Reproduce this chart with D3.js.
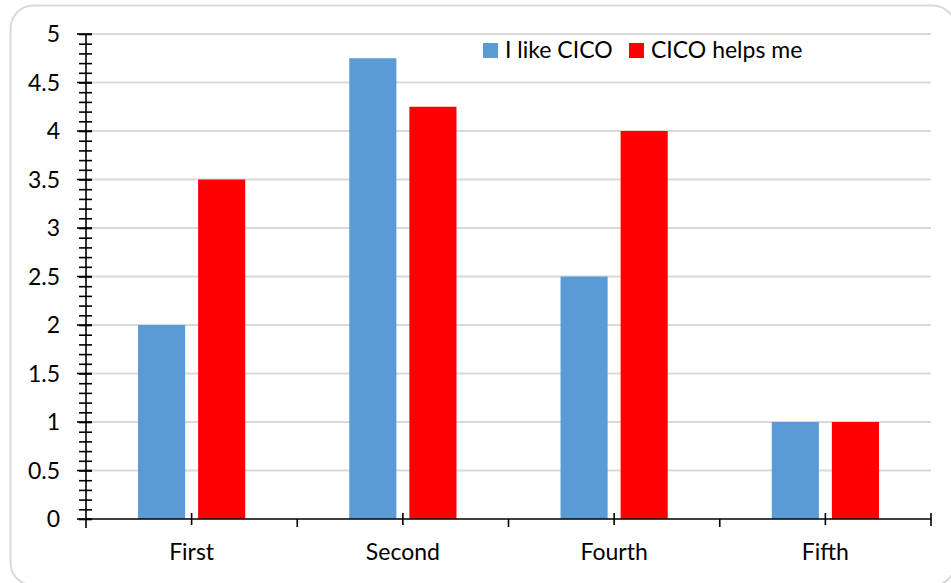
<!DOCTYPE html>
<html>
<head>
<meta charset="utf-8">
<script src="https://cdn.jsdelivr.net/npm/d3@7/dist/d3.min.js"></script>
<style>
  html, body { margin: 0; padding: 0; background: #fff; }
  svg { display: block; }
  text { font-family: Lato, "Open Sans", sans-serif; fill: #000; }
</style>
</head>
<body>
<svg id="chart" width="951" height="583"></svg>
<script>
// Survey answers per round
const categories = ["First", "Second", "Fourth", "Fifth"];
const likeCico = [2, 4.75, 2.5, 1];
const cicoHelps = [3.5, 4.25, 4, 1];
const seriesNames = ["I like CICO", "CICO helps me"];
const seriesColors = ["#5b9bd5", "#ff0000"];
const yTicks = [0, 0.5, 1, 1.5, 2, 2.5, 3, 3.5, 4, 4.5, 5];

const svg = d3.select("#chart");
const plot = { left: 86, right: 931, top: 34, bottom: 519 };
const fontSize = "23px";

// chart frame
svg.append("rect")
  .attr("x", 10.5).attr("y", 5.5)
  .attr("width", 945).attr("height", 580)
  .attr("rx", 23).attr("ry", 23)
  .attr("fill", "#fff")
  .attr("stroke", "#d9d9d9").attr("stroke-width", 2);

const x = d3.scaleBand().domain(categories).range([plot.left, plot.right]).padding(0);
const y = d3.scaleLinear().domain([0, 5]).range([plot.bottom, plot.top]);

// horizontal gridlines
svg.append("g")
  .selectAll("line")
  .data(yTicks.filter(d => d > 0))
  .join("line")
  .attr("x1", plot.left).attr("x2", plot.right)
  .attr("y1", d => y(d)).attr("y2", d => y(d))
  .attr("stroke", "#d9d9d9").attr("stroke-width", 2);

// bars
const bw = x.bandwidth();
const barW = bw * 0.223;
const gap = bw * 0.0615;
const series = [likeCico, cicoHelps];
series.forEach((vals, si) => {
  svg.append("g")
    .selectAll("rect")
    .data(vals)
    .join("rect")
    .attr("x", (d, i) => {
      const c = x(categories[i]) + bw / 2;
      return si === 0 ? c - gap / 2 - barW : c + gap / 2;
    })
    .attr("y", d => y(d))
    .attr("width", barW)
    .attr("height", d => y(0) - y(d))
    .attr("fill", seriesColors[si]);
});

// y axis with minor ticks every 0.1
const yAxis = svg.append("g").attr("transform", `translate(${plot.left},0)`);
yAxis.call(d3.axisLeft(y).tickValues(d3.range(0, 5.0001, 0.1)).tickSize(0).tickFormat(""));
yAxis.select(".domain").remove();
yAxis.selectAll(".tick").append("line")
  .attr("x1", -7).attr("x2", 6)
  .attr("stroke", "#000").attr("stroke-width", 1.6);
yAxis.append("line")
  .attr("x1", 0).attr("x2", 0)
  .attr("y1", y(5)).attr("y2", y(0) + 9)
  .attr("stroke", "#000").attr("stroke-width", 1.6);

// major y labels
svg.append("g")
  .selectAll("g")
  .data(yTicks)
  .join("g")
  .attr("transform", d => `translate(${plot.left},${y(d)})`)
  .call(g => g.append("line").attr("x1", -9).attr("x2", 6)
    .attr("stroke", "#000").attr("stroke-width", 1.6))
  .call(g => g.append("text")
    .attr("x", -26).attr("dy", "0.36em")
    .attr("text-anchor", "end")
    .style("font-size", fontSize)
    .text(d => d3.format("")(d)));

// x axis
const xAxis = svg.append("g").attr("transform", `translate(0,${plot.bottom})`);
xAxis.append("line")
  .attr("x1", plot.left).attr("x2", plot.right)
  .attr("stroke", "#000").attr("stroke-width", 1.6);
// boundary ticks
xAxis.selectAll("line.bound")
  .data(categories.slice(1))
  .join("line").attr("class", "bound")
  .attr("x1", d => x(d)).attr("x2", d => x(d))
  .attr("y1", 0).attr("y2", 8)
  .attr("stroke", "#000").attr("stroke-width", 1.6);
// centre ticks
xAxis.selectAll("line.mid")
  .data(categories)
  .join("line").attr("class", "mid")
  .attr("x1", d => x(d) + bw / 2).attr("x2", d => x(d) + bw / 2)
  .attr("y1", -6).attr("y2", 6)
  .attr("stroke", "#000").attr("stroke-width", 1.6);
xAxis.append("line")
  .attr("x1", plot.right).attr("x2", plot.right)
  .attr("y1", -6).attr("y2", 7)
  .attr("stroke", "#000").attr("stroke-width", 1.6);
xAxis.selectAll("text")
  .data(categories)
  .join("text")
  .attr("x", d => x(d) + bw / 2)
  .attr("y", 41)
  .attr("text-anchor", "middle")
  .style("font-size", fontSize)
  .text(d => d);

// legend
const legend = svg.append("g").attr("transform", "translate(483,43)");
const legendX = [0, 146];
seriesNames.forEach((name, i) => {
  const g = legend.append("g").attr("transform", `translate(${legendX[i]},0)`);
  g.append("rect").attr("width", 15).attr("height", 15).attr("fill", seriesColors[i]);
  g.append("text").attr("x", 22).attr("y", 14.5)
    .style("font-size", fontSize).text(name);
});
</script>
</body>
</html>
